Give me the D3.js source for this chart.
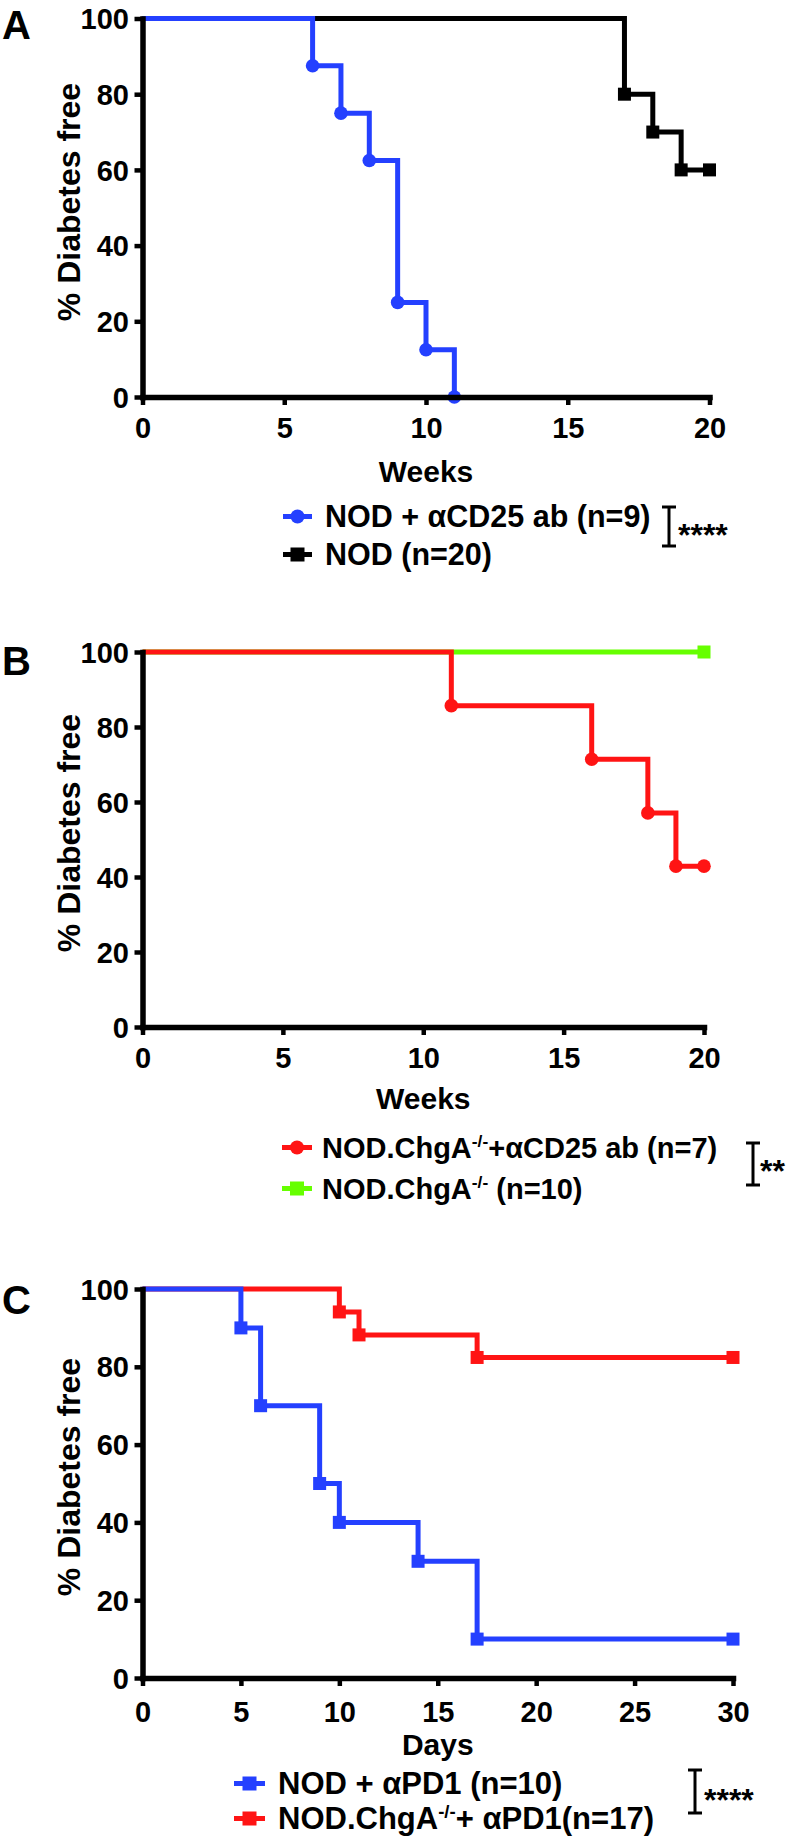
<!DOCTYPE html>
<html>
<head>
<meta charset="utf-8">
<script src="https://cdn.jsdelivr.net/npm/d3@7"></script>
<style>
  html, body { margin: 0; padding: 0; background: #fff; }
  svg { display: block; }
  text { font-family: "Liberation Sans", Arial, Helvetica, sans-serif; font-weight: bold; fill: #000; }
</style>
</head>
<body>
<svg id="chart" width="789" height="1841"></svg>
<script>
// ---------------- DATA ----------------
const yTicks = [0, 20, 40, 60, 80, 100];
const weekTicks = [0, 5, 10, 15, 20];
const dayTicks = [0, 5, 10, 15, 20, 25, 30];

// Panel A
const weeksA_aCD25 = [0, 6, 7, 8, 9, 10, 11];
const survA_aCD25  = [100, 87.5, 75, 62.5, 25, 12.5, 0];
const weeksA_NOD   = [0, 17, 18, 19, 20];
const survA_NOD    = [100, 80, 70, 60, 60];

// Panel B
const weeksB_ChgA_aCD25 = [0, 11, 16, 18, 19, 20];
const survB_ChgA_aCD25  = [100, 85.7, 71.4, 57.1, 42.9, 42.9];
const weeksB_ChgA = [0, 20];
const survB_ChgA  = [100, 100];

// Panel C
const daysC_NOD_aPD1  = [0, 5, 6, 9, 10, 14, 17, 30];
const survC_NOD_aPD1  = [100, 90, 70, 50, 40, 30, 10, 10];
const daysC_ChgA_aPD1 = [0, 10, 11, 17, 30];
const survC_ChgA_aPD1 = [100, 94.1, 88.2, 82.4, 82.4];

const legendA = [["NOD + αCD25 ab (n=9)"], ["NOD  (n=20)"]];
const legendB = [["NOD.ChgA", "-/-", "+αCD25 ab (n=7)"], ["NOD.ChgA", "-/-", " (n=10)"]];
const legendC = [["NOD + αPD1 (n=10)"], ["NOD.ChgA", "-/-", "+ αPD1(n=17)"]];
const sigA = "****", sigB = "**", sigC = "****";

const BLUE = "#2440ff", BLACK = "#000000", RED = "#ff1414", GREEN = "#66ff00";

// ---------------- DRAW ----------------
const svg = d3.select("#chart");

function zip(xs, ys) { return xs.map((x, i) => ({ x: x, y: ys[i] })); }

function drawPanel(cfg) {
  const g = svg.append("g");
  const x = d3.scaleLinear().domain([0, cfg.xmax]).range([cfg.x0, cfg.x1]);
  const y = d3.scaleLinear().domain([0, 100]).range([cfg.y0, cfg.y100]);

  // series (drawn in order, last on top)
  const line = d3.line().x(d => x(d.x)).y(d => y(d.y)).curve(d3.curveStepAfter);
  cfg.series.forEach(s => {
    const pts = zip(s.xs, s.ys);
    g.append("path").datum(pts)
      .attr("d", line).attr("fill", "none")
      .attr("stroke", s.color).attr("stroke-width", 5)
      .attr("stroke-linejoin", "miter").attr("stroke-linecap", "butt");
    const mk = pts.slice(1);
    if (s.marker === "circle") {
      g.selectAll(null).data(mk).enter().append("circle")
        .attr("cx", d => x(d.x)).attr("cy", d => y(d.y)).attr("r", 6.8)
        .attr("fill", s.color);
    } else {
      g.selectAll(null).data(mk).enter().append("rect")
        .attr("x", d => x(d.x) - 6.5).attr("y", d => y(d.y) - 6.5)
        .attr("width", 13).attr("height", 13).attr("fill", s.color);
    }
  });

  // axes
  const yAxis = d3.axisLeft(y).tickValues(yTicks).tickSize(8).tickSizeOuter(0).tickPadding(5.5);
  const xAxis = d3.axisBottom(x).tickValues(cfg.xticks).tickSize(8).tickSizeOuter(0);
  const gy = g.append("g").attr("transform", `translate(${cfg.x0},0)`).call(yAxis);
  const gx = g.append("g").attr("transform", `translate(0,${cfg.y0})`).call(xAxis);
  [gy, gx].forEach(a => {
    a.select(".domain").attr("stroke", "#000").attr("stroke-width", 5.5).attr("stroke-linecap", "square");
    a.selectAll(".tick line").attr("stroke", "#000").attr("stroke-width", 4.5);
    a.selectAll(".tick text").attr("font-family", "Liberation Sans, Arial, sans-serif")
      .attr("font-weight", "bold").attr("font-size", 29).attr("fill", "#000");
  });
  gy.selectAll(".tick text").attr("dy", "0.35em");
  gx.selectAll(".tick text").attr("dy", null).attr("y", cfg.tickLabelDy);

  // axis titles
  g.append("text").attr("x", (cfg.x0 + cfg.x1) / 2).attr("y", cfg.xlabelY)
    .attr("text-anchor", "middle").attr("font-size", 30).text(cfg.xlabel);
  g.append("text")
    .attr("transform", `translate(80,${cfg.ylabCenter}) rotate(-90)`)
    .attr("text-anchor", "middle").attr("font-size", 32).text("% Diabetes free");

  // panel letter
  g.append("text").attr("x", 2).attr("y", cfg.letterY).attr("font-size", 40).text(cfg.letter);

  // legend
  cfg.legend.rows.forEach((parts, i) => {
    const s = cfg.series[cfg.legend.order[i]];
    const by = cfg.legend.baselines[i];
    const cy = by - 10.5;
    const mx0 = cfg.legend.mx0, mx1 = cfg.legend.mx1, mc = (mx0 + mx1) / 2;
    g.append("line").attr("x1", mx0).attr("x2", mx1).attr("y1", cy).attr("y2", cy)
      .attr("stroke", s.color).attr("stroke-width", 5);
    if (s.marker === "circle") {
      g.append("circle").attr("cx", mc).attr("cy", cy).attr("r", 7).attr("fill", s.color);
    } else {
      g.append("rect").attr("x", mc - 7).attr("y", cy - 7).attr("width", 14).attr("height", 14).attr("fill", s.color);
    }
    const t = g.append("text").attr("x", cfg.legend.tx).attr("y", by).attr("font-size", cfg.legend.fs);
    t.append("tspan").text(parts[0]);
    if (parts.length > 1) {
      t.append("tspan").attr("dy", -11).attr("font-size", cfg.legend.fs * 0.6).text(parts[1]);
      t.append("tspan").attr("dy", 11).text(parts[2]);
    }
  });

  // significance bracket
  const b = cfg.sig;
  g.append("line").attr("x1", b.x).attr("x2", b.x).attr("y1", b.y0).attr("y2", b.y1)
    .attr("stroke", "#000").attr("stroke-width", 3);
  [b.y0, b.y1].forEach(yy => g.append("line").attr("x1", b.x - 7).attr("x2", b.x + 7)
    .attr("y1", yy).attr("y2", yy).attr("stroke", "#000").attr("stroke-width", 3));
  g.append("text").attr("x", b.sx).attr("y", b.sy).attr("font-size", 32).text(b.label);
}

drawPanel({
  letter: "A", letterY: 39,
  x0: 142.5, x1: 709.5, y100: 18.5, y0: 397, xmax: 20, xticks: weekTicks,
  tickLabelDy: 41, xlabel: "Weeks", xlabelY: 482, ylabCenter: 202,
  series: [
    { xs: weeksA_NOD, ys: survA_NOD, color: BLACK, marker: "square" },
    { xs: weeksA_aCD25, ys: survA_aCD25, color: BLUE, marker: "circle" }
  ],
  legend: { rows: legendA, order: [1, 0], baselines: [527, 565], mx0: 283, mx1: 312, tx: 325, fs: 30.5 },
  sig: { x: 669, y0: 507, y1: 546, sx: 678, sy: 546, label: sigA }
});

drawPanel({
  letter: "B", letterY: 675,
  x0: 142.5, x1: 704, y100: 652, y0: 1027, xmax: 20, xticks: weekTicks,
  tickLabelDy: 41, xlabel: "Weeks", xlabelY: 1109, ylabCenter: 833,
  series: [
    { xs: weeksB_ChgA, ys: survB_ChgA, color: GREEN, marker: "square" },
    { xs: weeksB_ChgA_aCD25, ys: survB_ChgA_aCD25, color: RED, marker: "circle" }
  ],
  legend: { rows: legendB, order: [1, 0], baselines: [1158, 1199], mx0: 282, mx1: 312, tx: 322, fs: 29 },
  sig: { x: 753, y0: 1143, y1: 1185, sx: 760, sy: 1182, label: sigB }
});

drawPanel({
  letter: "C", letterY: 1314,
  x0: 142.5, x1: 733, y100: 1289, y0: 1678, xmax: 30, xticks: dayTicks,
  tickLabelDy: 44, xlabel: "Days", xlabelY: 1755, ylabCenter: 1477,
  series: [
    { xs: daysC_ChgA_aPD1, ys: survC_ChgA_aPD1, color: RED, marker: "square" },
    { xs: daysC_NOD_aPD1, ys: survC_NOD_aPD1, color: BLUE, marker: "square" }
  ],
  legend: { rows: legendC, order: [1, 0], baselines: [1794, 1829], mx0: 234, mx1: 265, tx: 278, fs: 31 },
  sig: { x: 695, y0: 1770, y1: 1813, sx: 704, sy: 1811, label: sigC }
});
</script>
</body>
</html>
